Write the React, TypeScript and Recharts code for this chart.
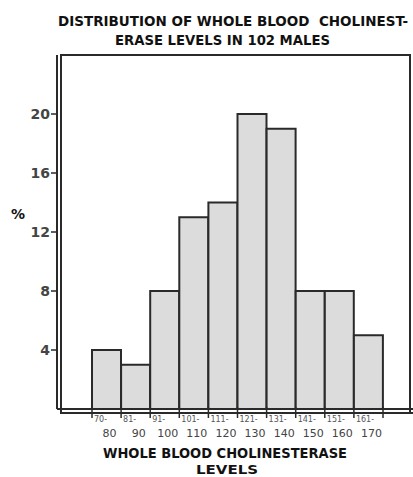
import React from "react";
import { BarChart, Bar, XAxis, YAxis } from "recharts";

// class intervals of whole blood cholinesterase
const rangeStarts = ["70-", "81-", "91-", "101-", "111-", "121-", "131-", "141-", "151-", "161-"];
const rangeEnds = ["80", "90", "100", "110", "120", "130", "140", "150", "160", "170"];
// percent of males in each interval
const percents = [4, 3, 8, 13, 14, 20, 19, 8, 8, 5];
const yTicks = [4, 8, 12, 16, 20];

const data = rangeStarts.map((s, i) => ({
  level: `${s}${rangeEnds[i]}`,
  percent: percents[i],
}));

const W = 413;
const H = 477;
const PLOT_LEFT = 57;
const PLOT_RIGHT = 410;
const PAD_L = 35;
const PAD_R = 27;
const BAND = (PLOT_RIGHT - PLOT_LEFT - PAD_L - PAD_R) / percents.length;
const INK = "#2a2a2a";
const LETTER = "'DejaVu Sans', sans-serif";
const NARROW = "'DejaVu Sans Condensed', 'Liberation Sans Narrow', 'DejaVu Sans', sans-serif";

const LevelTick = (props: any) => {
  const { x, y, index } = props;
  const left = x - BAND / 2;
  const last = index === percents.length - 1;
  return (
    <g>
      <line x1={left} y1={y - 2} x2={left} y2={y + 9} stroke={INK} strokeWidth={1.5} />
      {last && (
        <line x1={left + BAND} y1={y - 2} x2={left + BAND} y2={y + 9} stroke={INK} strokeWidth={1.5} />
      )}
      <text x={left + 2} y={y + 13} fontSize={8} fill="#555" fontFamily={LETTER}>
        {rangeStarts[index]}
      </text>
      <text x={x + 3} y={y + 28} fontSize={11} fill="#444" textAnchor="middle" fontFamily={LETTER}>
        {rangeEnds[index]}
      </text>
    </g>
  );
};

export default function App() {
  return (
    <div style={{ position: "absolute", left: 0, top: 0, width: W, height: H, background: "#fff" }}>
      <BarChart
        width={W}
        height={H}
        data={data}
        barCategoryGap={0}
        margin={{ top: 55, right: W - PLOT_RIGHT, bottom: 0, left: 11 }}
      >
        <XAxis
          dataKey="level"
          interval={0}
          padding={{ left: PAD_L, right: PAD_R }}
          height={68}
          tickSize={0}
          tickMargin={0}
          tickLine={false}
          axisLine={{ stroke: INK, strokeWidth: 2 }}
          tick={<LevelTick />}
        />
        <YAxis
          width={46}
          domain={[0, 24]}
          ticks={yTicks}
          tickSize={6}
          tickMargin={1}
          axisLine={{ stroke: INK, strokeWidth: 2 }}
          tickLine={{ stroke: INK, strokeWidth: 1.5 }}
          tick={{ fontSize: 14, fill: "#444", fontFamily: LETTER, fontWeight: "bold" }}
        />
        <Bar
          dataKey="percent"
          fill="#dcdcdc"
          stroke={INK}
          strokeWidth={2}
          isAnimationActive={false}
        />
      </BarChart>
      <svg
        width={W}
        height={H}
        style={{ position: "absolute", left: 0, top: 0, pointerEvents: "none" }}
      >
        <rect x={61} y={55} width={PLOT_RIGHT - 61} height={358} fill="none" stroke={INK} strokeWidth={2} />
        <line x1={PLOT_RIGHT} y1={409} x2={W} y2={409} stroke={INK} strokeWidth={2} />
        <line x1={PLOT_RIGHT} y1={413} x2={W} y2={413} stroke={INK} strokeWidth={2} />
        <text x={58} y={26} fontSize={14} fontWeight="bold" fill="#111" fontFamily={NARROW}
          textLength={350} lengthAdjust="spacingAndGlyphs" xmlSpace="preserve">
          DISTRIBUTION OF WHOLE BLOOD  CHOLINEST-
        </text>
        <text x={115} y={45} fontSize={14} fontWeight="bold" fill="#111" fontFamily={NARROW}
          textLength={215} lengthAdjust="spacingAndGlyphs">
          ERASE LEVELS IN 102 MALES
        </text>
        <text x={11} y={219} fontSize={14} fontWeight="bold" fill="#111" fontFamily={LETTER}>
          %
        </text>
        <text x={103} y={458} fontSize={14} fontWeight="bold" fill="#111" fontFamily={NARROW}
          textLength={244} lengthAdjust="spacingAndGlyphs">
          WHOLE BLOOD CHOLINESTERASE
        </text>
        <text x={227} y={474} fontSize={13} fontWeight="bold" fill="#111" fontFamily={NARROW}
          textAnchor="middle" textLength={62} lengthAdjust="spacingAndGlyphs">
          LEVELS
        </text>
      </svg>
    </div>
  );
}
